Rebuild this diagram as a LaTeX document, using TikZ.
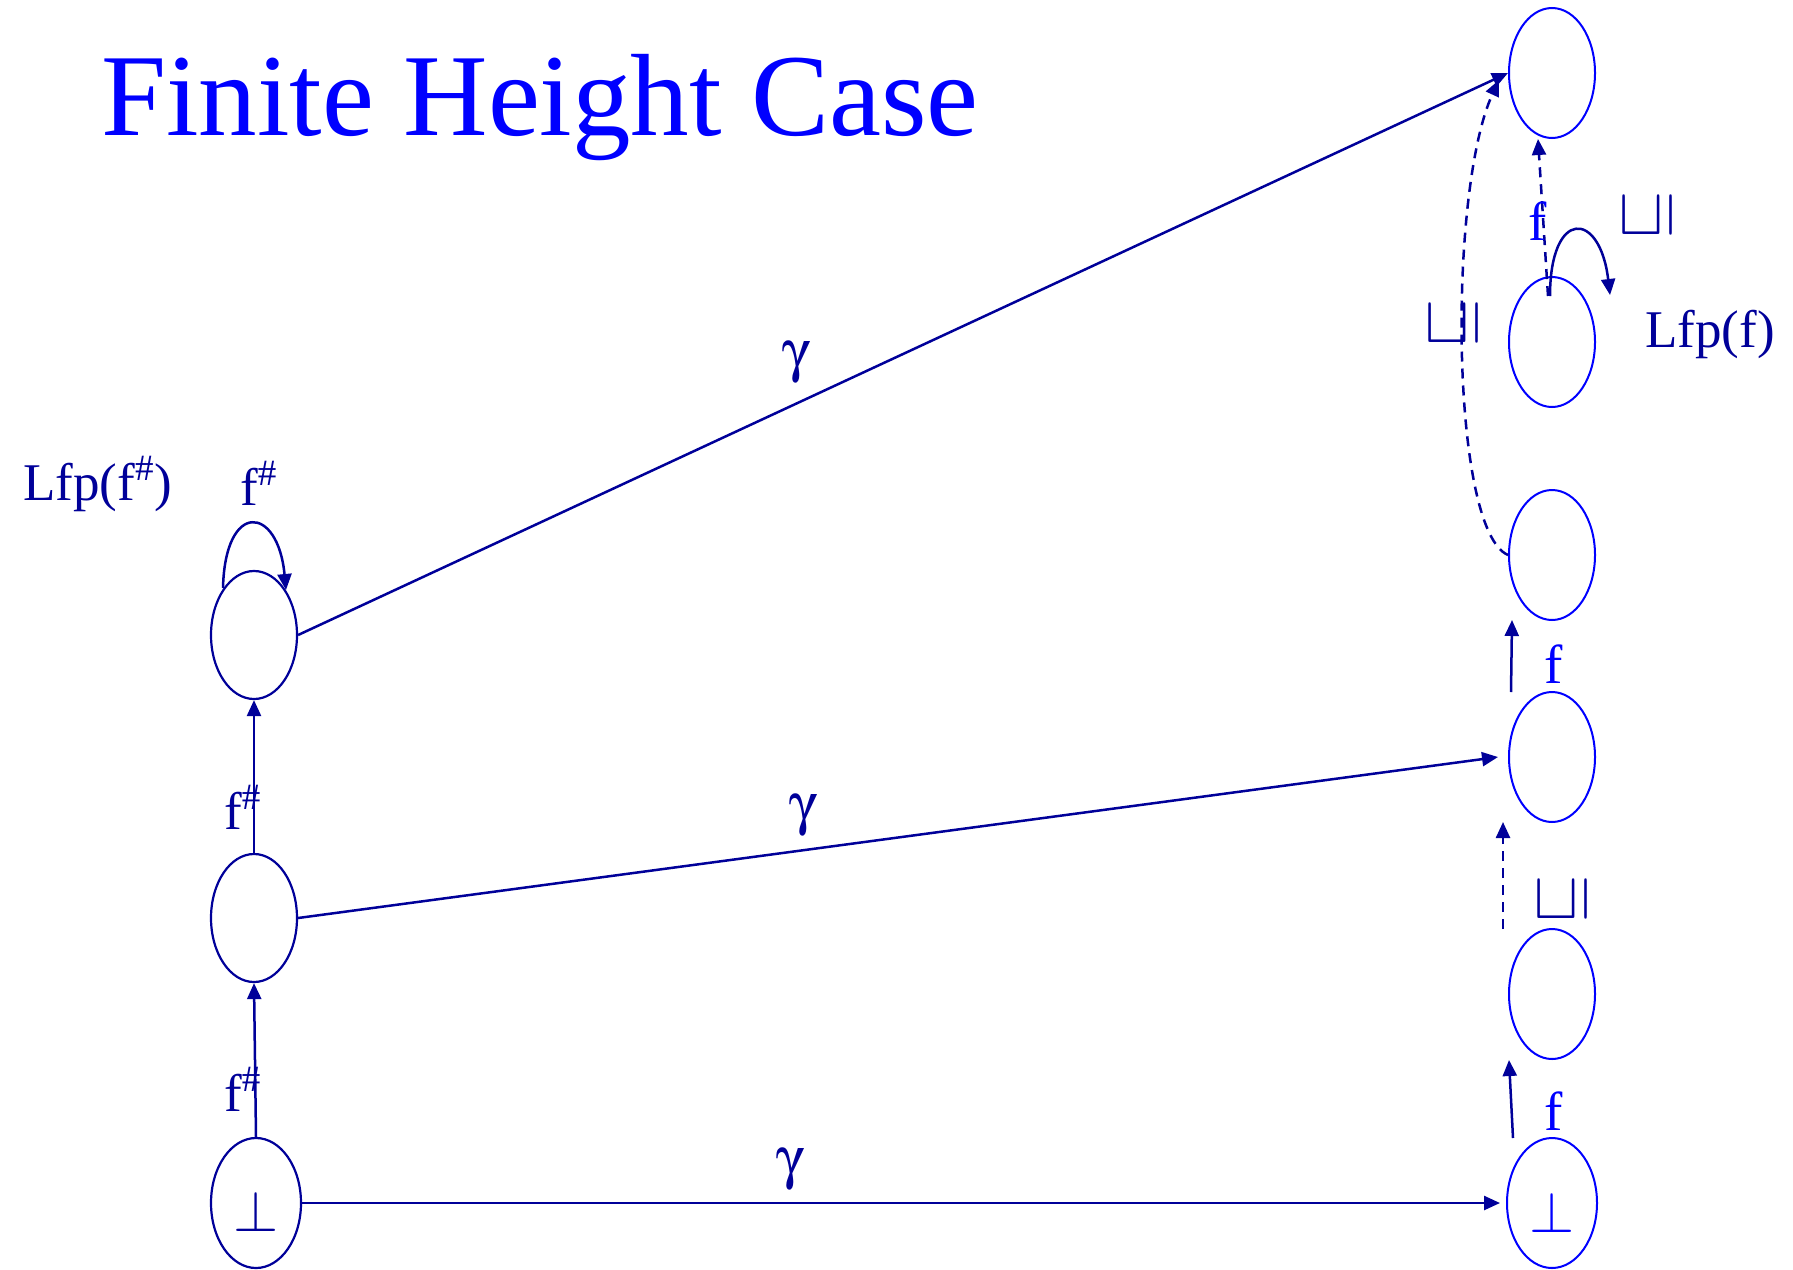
\documentclass[tikz,border=0pt]{standalone}
\usepackage{fix-cm}
\usepackage{fontspec}
\setmainfont{Liberation Serif}
\usepackage[Symbol]{upgreek}
\usepackage{graphicx}
\usetikzlibrary{shapes.geometric,arrows.meta}
\definecolor{navy}{RGB}{0,0,153}
\definecolor{brightblue}{RGB}{0,0,255}
\begin{document}
\begin{tikzpicture}[x=1pt,y=-1pt,
 lnode/.style={ellipse,draw=navy,line width=2.2pt,minimum width=86pt,minimum height=128pt,inner sep=0pt},
 rnode/.style={ellipse,draw=brightblue,line width=2pt,minimum width=86pt,minimum height=130pt,inner sep=0pt},
 arr/.style={navy,line width=2.5pt,-{Triangle[length=16pt,width=14pt]}},
 dsh/.style={arr,dash pattern=on 10pt off 7pt},
 lbl/.style={navy,font=\fontsize{53}{60}\selectfont,inner sep=0pt},
 glbl/.style={navy,font=\fontsize{58}{64}\selectfont,inner sep=0pt},
 rlbl/.style={brightblue,font=\fontsize{55}{60}\selectfont,inner sep=0pt},
 sq/.style={navy,font=\fontsize{64}{70}\selectfont,inner sep=0pt},
 botsym/.style={font=\fontsize{58}{64}\selectfont,inner sep=0pt}]
\useasboundingbox (0,0) rectangle (1793,1269);
% title
\node[brightblue,font=\fontsize{117}{120}\selectfont,anchor=base west,inner sep=0pt] (title) at (101,135) {Finite Height Case};
% left column
\node[lnode] (L3) at (254,635) {};
\node[lnode] (L2) at (254,918) {};
\node[lnode,minimum width=90pt,minimum height=130pt] (L1) at (256,1203) {};
\node[botsym,text=navy] (bot1) at (256,1211) {$\bot$};
% right column
\node[rnode] (R1) at (1552,73) {};
\node[rnode] (R2) at (1552,342) {};
\node[rnode] (R3) at (1552,555) {};
\node[rnode] (R4) at (1552,757) {};
\node[rnode] (R5) at (1552,994) {};
\node[rnode,minimum width=90pt] (R6) at (1552,1203) {};
\node[botsym,text=brightblue] (bot2) at (1552,1212) {$\bot$};
% free ends
\coordinate (a1s) at (1513,1138); \coordinate (a1e) at (1509,1060);
\coordinate (d1s) at (1503,929);  \coordinate (d1e) at (1503,822);
\coordinate (a2s) at (1511,692);  \coordinate (a2e) at (1512,620);
\coordinate (d2s) at (1548,296);  \coordinate (d2e) at (1538,139);
\coordinate (c1e) at (1499,80);
\coordinate (l2s) at (1550,296);  \coordinate (l2e) at (1610,295);
\coordinate (l3s) at (223,588);   \coordinate (l3e) at (286,590);
\coordinate (g2e) at (1498,757);  \coordinate (g3e) at (1500,1203);
% gamma arrows
\draw[arr] (L3.east) -- (R1.west);
\draw[arr] (L2.east) -- (g2e);
\draw[arr] (L1.east) -- (g3e);
% left vertical arrows
\draw[arr] (L1.north) -- (L2.south);
\draw[arr] (L2.north) -- (L3.south);
\draw[arr] (l3s) .. controls (225,500) and (278,505) .. (l3e);
% right arrows
\draw[arr] (a1s) -- (a1e);
\draw[dsh] (d1s) -- (d1e);
\draw[arr] (a2s) -- (a2e);
\draw[dsh] (R3.west) .. controls (1450,530) and (1448,190) .. (c1e);
\draw[dsh] (d2s) -- (d2e);
\draw[arr] (l2s) .. controls (1550,208) and (1600,210) .. (l2e);
% labels
\node[lbl,anchor=base west] (lfpL) at (23,500) {Lfp(f\textsuperscript{\#})};
\node[lbl,anchor=base west] (fs1) at (240,505) {f\textsuperscript{\#}};
\node[lbl,anchor=base west] (fs2) at (224,829) {f\textsuperscript{\#}};
\node[lbl,anchor=base west] (fs3) at (224,1111) {f\textsuperscript{\#}};
\node[glbl] (g1) at (797,362) {$\upgamma$};
\node[glbl] (g2) at (804,815) {$\upgamma$};
\node[glbl] (g3) at (791,1169) {$\upgamma$};
\node[rlbl,anchor=base west] (f1) at (1544,1130) {f};
\node[rlbl,anchor=base west] (f2) at (1544,683) {f};
\node[rlbl,anchor=base west] (f3) at (1528,240) {f};
\node[lbl,anchor=base west] (lfpR) at (1645,347) {Lfp(f)};
\node[sq] (s1) at (1562,900) {\rotatebox{90}{$\sqsubseteq$}};
\node[sq] (s2) at (1453,324) {\rotatebox{90}{$\sqsubseteq$}};
\node[sq] (s3) at (1647,216) {\rotatebox{90}{$\sqsubseteq$}};
\end{tikzpicture}
\end{document}
